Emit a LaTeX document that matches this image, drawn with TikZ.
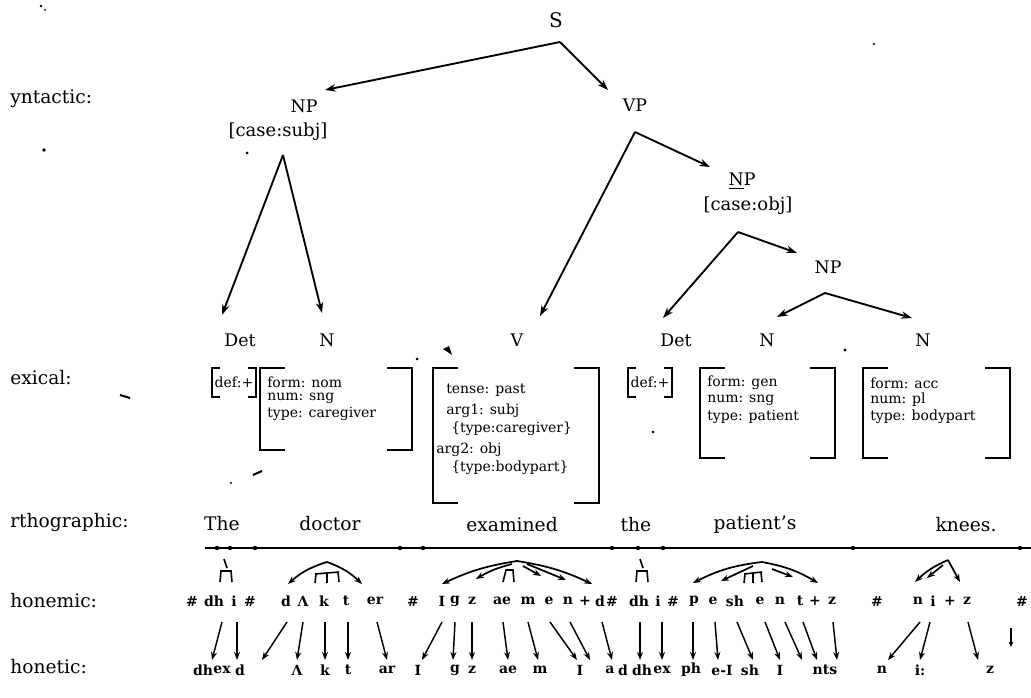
\documentclass[tikz,border=0pt]{standalone}
\usepackage{fontspec}
\setmainfont{DejaVu Serif}
\usetikzlibrary{arrows.meta}
\tikzset{
  cat/.style={font=\fontsize{13}{15}\selectfont, inner sep=0pt},
  feat/.style={font=\fontsize{13.5}{15}\selectfont, inner sep=0pt},
  lbl/.style={font=\fontsize{14}{16}\selectfont, anchor=west, inner sep=0pt},
  orth/.style={font=\fontsize{14}{16}\selectfont, inner sep=0pt},
  ph/.style={font=\bfseries\fontsize{10.5}{12}\selectfont, inner sep=0pt},
  boxtxt/.style={font=\fontsize{10.5}{12}\selectfont, anchor=west, inner sep=0pt},
  tree/.style={line width=1.4pt, -{Stealth[length=8pt,width=5.5pt]}},
  parr/.style={line width=1.1pt, -{Stealth[length=6pt,width=4.5pt]}},
  sylarc/.style={line width=1.3pt, -{Stealth[length=6pt,width=4.5pt]}},
  brk/.style={line width=1.5pt},
  sylmark/.style={line width=1.2pt},
  speck/.style={fill=black},
}
\newcommand{\brbox}[5]{%
  \draw[brk] (#1+#5,#2) -- (#1,#2) -- (#1,#4) -- (#1+#5,#4);
  \draw[brk] (#3-#5,#2) -- (#3,#2) -- (#3,#4) -- (#3-#5,#4);}
\newcommand{\hmark}[1]{%
  \draw[sylmark] (#1-2,559) -- (#1+1,568);
  \draw[sylmark] (#1-6,571) -- (#1+6,571);
  \draw[sylmark] (#1-5,571) -- (#1-6,582);
  \draw[sylmark] (#1+5,571) -- (#1+6,582);}
\newcommand{\pimark}[2]{%
  \draw[sylmark] (#1-#2,574) -- (#1+#2,572);
  \draw[sylmark] (#1-#2+1,574) -- (#1-#2,583);
  \draw[sylmark] (#1,573) -- (#1,583);
  \draw[sylmark] (#1+#2-1,572) -- (#1+#2,582);}
\begin{document}
\begin{tikzpicture}[x=0.75pt,y=-0.75pt]
\useasboundingbox (0,0) rectangle (1031,698);

% row labels
\node[lbl] (lsyn) at (10,99) {yntactic:};
\node[lbl] (llex) at (10,378) {exical:};
\node[lbl] (lort) at (10,522) {rthographic:};
\node[lbl] (lpm)  at (10,601) {honemic:};
\node[lbl] (lpt)  at (10,667) {honetic:};

% syntactic tree
\node[cat] (S)   at (556,20) {\fontsize{15}{17}\selectfont S};
\node[cat] (NP1) at (304,106) {NP};
\node[feat] (NP1f) at (278,132) {[case:subj]};
\node[cat] (VP)  at (635,105) {VP};
\node[cat] (NP2) at (742,181) {\underline{N}P};
\node[feat] (NP2f) at (748,206) {[case:obj]};
\node[cat] (NP3) at (828,267) {NP};
\node[cat] (Det1) at (240,340) {Det};
\node[cat] (N1)   at (327,340) {N};
\node[cat] (V)    at (517,340) {V};
\node[cat] (Det2) at (676,340) {Det};
\node[cat] (N2)   at (767,340) {N};
\node[cat] (N3)   at (923,340) {N};

\coordinate (Sa) at (560,42);
\coordinate (VPa) at (635,132);
\coordinate (NP1a) at (283,155);
\coordinate (NP2a) at (738,232);
\coordinate (NP3a) at (825,293);
\coordinate (tNP1) at (325,90);
\coordinate (tVP) at (608,90);
\coordinate (tV) at (540,316);
\coordinate (tNP2) at (710,167);
\coordinate (tDet1) at (222,315);
\coordinate (tN1) at (322,313);
\coordinate (tDet2) at (663,318);
\coordinate (tNP3) at (797,253);
\coordinate (tN2) at (777,317);
\coordinate (tN3) at (912,318);
\draw[tree] (Sa) -- (tNP1);
\draw[tree] (Sa) -- (tVP);
\draw[tree] (VPa) -- (tV);
\draw[tree] (VPa) -- (tNP2);
\draw[tree] (NP1a) -- (tDet1);
\draw[tree] (NP1a) -- (tN1);
\draw[tree] (NP2a) -- (tDet2);
\draw[tree] (NP2a) -- (tNP3);
\draw[tree] (NP3a) -- (tN2);
\draw[tree] (NP3a) -- (tN3);

% lexical feature boxes
\brbox{212}{368}{256}{397}{8}
\node[boxtxt, anchor=center] (fdef1) at (234,382) {def:+};
\brbox{260}{368}{412}{450}{25}
\node[boxtxt] (fc1) at (267,382) {form: nom};
\node[boxtxt] (fc2) at (267,398) {num: sng};
\node[boxtxt] (fc3) at (267,414) {type: caregiver};
\brbox{433}{368}{599}{503}{25}
\node[boxtxt] (fv1) at (446,390) {tense: past};
\node[boxtxt] (fv2) at (446,411) {arg1: subj};
\node[boxtxt] (fv3) at (451,429) {\{type:caregiver\}};
\node[boxtxt] (fv4) at (436,450) {arg2: obj};
\node[boxtxt] (fv5) at (451,468) {\{type:bodypart\}};
\brbox{628}{368}{672}{397}{8}
\node[boxtxt, anchor=center] (fdef2) at (650,382) {def:+};
\brbox{700}{368}{835}{458}{25}
\node[boxtxt] (fp1) at (707,383) {form: gen};
\node[boxtxt] (fp2) at (707,400) {num: sng};
\node[boxtxt] (fp3) at (707,417) {type: patient};
\brbox{863}{368}{1010}{458}{25}
\node[boxtxt] (fb1) at (870,383) {form: acc};
\node[boxtxt] (fb2) at (870,400) {num: pl};
\node[boxtxt] (fb3) at (870,417) {type: bodypart};

% orthographic
\node[orth] (w1) at (222,524) {The};
\node[orth] (w2) at (330,524) {doctor};
\node[orth] (w3) at (512,525) {examined};
\node[orth] (w4) at (636,525) {the};
\node[orth] (w5) at (755,525) {patient's};
\node[orth] (w6) at (966,525) {knees.};
\coordinate (oL) at (205,548);
\coordinate (oR) at (1031,548);
\draw[line width=1.5pt] (oL) -- (oR);
\foreach \x in {217,230,255,400,423,612,638,663,853,1020}
  \fill (\x,548) circle (2.2);

% syllable marks over phonemes
\hmark{226}
\hmark{642}
\coordinate (dA) at (327,562);
\coordinate (dL) at (288,584);
\coordinate (dR) at (362,584);
\draw[sylarc] (dA) to[bend right=12] (dL);
\draw[sylarc] (dA) to[bend left=12] (dR);
\pimark{327}{12}
\coordinate (eA) at (517,561);
\coordinate (eL) at (442,584);
\coordinate (eR) at (592,584);
\coordinate (eI1) at (476,579);
\coordinate (eI2) at (541,576);
\coordinate (eI3) at (566,580);
\draw[sylarc] (eA) to[bend right=8] (eL);
\draw[sylarc] (eA) to[bend left=8] (eR);
\draw[sylarc] (512,564) to[bend right=8] (eI1);
\draw[sylarc] (523,566) -- (eI2);
\draw[sylarc] (527,564) -- (eI3);
\draw[sylmark] (503,582) -- (506,570) -- (513,570) -- (514,582);
\coordinate (pA) at (762,562);
\coordinate (pL) at (693,583);
\coordinate (pR) at (818,583);
\coordinate (pI1) at (721,581);
\coordinate (pI2) at (793,577);
\draw[sylarc] (pA) to[bend right=10] (pL);
\draw[sylarc] (pA) to[bend left=10] (pR);
\draw[sylarc] (753,566) -- (pI1);
\draw[sylarc] (772,569) -- (pI2);
\pimark{753}{9}
\coordinate (kA) at (948,560);
\coordinate (kL) at (915,582);
\coordinate (kR) at (960,582);
\coordinate (kI) at (927,578);
\draw[sylarc] (kA) to[bend right=10] (kL);
\draw[sylarc] (kA) -- (kR);
\draw[sylarc] (943,565) -- (kI);

% phonemic tokens
\foreach \x/\t [count=\i] in {192/\#,214/dh,234/i,250/\#,286/d,303/Λ,324/k,346/t,375/er,413/\#,442/I,455/g,472/z,502/ae,528/m,549/e,568/n,585/+,600/d,612/\#,639/dh,658/i,673/\#,694/p,713/e,735/sh,760/e,780/n,800/t,815/+,832/z,877/\#,918/n,933/i,950/+,967/z,1022/\#}
  \node[ph] (pm\i) at (\x,601) {\t};

% phonetic tokens
\foreach \x/\t [count=\i] in {203/dh,222/ex,240/d,297/Λ,325/k,348/t,387/ar,418/I,455/g,472/z,508/ae,540/m,580/I,610/a,623/d,642/dh,662/ex,691/ph,722/e-I,750/sh,780/I,825/nts,882/n,920/i:,990/z}
  \node[ph] (pt\i) at (\x,670) {\t};

% phoneme-to-phone arrows
\foreach \a/\b [count=\i] in {222/212,237/237,287/262,303/297,325/325,348/348,377/387,442/422,455/453,472/472,503/508,528/538,550/577,570/590,602/612,640/640,662/662,693/693,715/718,737/753,765/780,785/802,803/817,833/837,920/888,930/920,968/978}
{
  \coordinate (ua\i) at (\a,622);
  \coordinate (la\i) at (\b,660);
  \draw[parr] (ua\i) -- (la\i);
}
\coordinate (fx1) at (1011,628);
\coordinate (fx2) at (1011,647);
\draw[line width=1pt, -{Stealth[length=4pt,width=3.5pt]}] (fx1) -- (fx2);

% scan specks
\fill[speck] (41,6) circle (1.3);
\fill[speck] (45,10) circle (1);
\fill[speck] (247,153) circle (1.5);
\fill[speck] (44,150) circle (1.8);
\draw[line width=1.5pt] (120,395) -- (130,398);
\draw[line width=1.5pt] (253,475) -- (262,471);
\fill[speck] (231,483) circle (1.2);
\fill[speck] (417,359) circle (1.5);
\fill[speck] (845,350) circle (1.6);
\fill[speck] (653,432) circle (1.5);
\fill[speck] (874,44) circle (1.2);
\fill[speck] (452,355) -- (443,349) -- (449,346) -- cycle;
\end{tikzpicture}
\end{document}
